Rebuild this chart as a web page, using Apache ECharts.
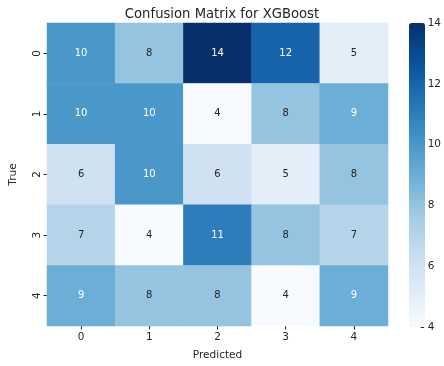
<!DOCTYPE html>
<html>
<head>
<meta charset="utf-8">
<script src="https://cdn.jsdelivr.net/npm/echarts@6/dist/echarts.min.js"></script>
<style>html,body{margin:0;padding:0;background:#fff;}#c{width:444px;height:366px;}</style>
</head>
<body>
<div id="c"></div>
<script>
var predictedLabels = ['0', '1', '2', '3', '4'];
var trueLabels = ['0', '1', '2', '3', '4'];
var row0 = [10, 8, 14, 12, 5];
var row1 = [10, 10, 4, 8, 9];
var row2 = [6, 10, 6, 5, 8];
var row3 = [7, 4, 11, 8, 7];
var row4 = [9, 8, 8, 4, 9];
var colorbarTicks = [4, 6, 8, 10, 12, 14];
var titleText = 'Confusion Matrix for XGBoost';

var rows = [row0, row1, row2, row3, row4];
var blues = ['#f7fbff','#deebf7','#c6dbef','#9ecae1','#6baed6','#4292c6','#2171b5','#08519c','#08306b'];
var vmin = 4, vmax = 14;
var font = 'DejaVu Sans';
var data = [];
rows.forEach(function (r, i) {
  r.forEach(function (v, j) {
    data.push({ value: [j, i, v], label: { color: v >= 9 ? '#ffffff' : '#262626' } });
  });
});

var chart = echarts.init(document.getElementById('c'), null, { renderer: 'canvas' });
chart.setOption({
  backgroundColor: '#ffffff',
  animation: false,
  title: {
    text: titleText, left: 217, top: 3, textAlign: 'center',
    textStyle: { fontFamily: font, fontSize: 13.2, fontWeight: 'normal', color: '#262626' }
  },
  grid: [
    { left: 46, top: 23, width: 342, height: 304 },
    { left: 409, top: 23, width: 16, height: 304 }
  ],
  xAxis: [
    {
      type: 'category', gridIndex: 0, data: predictedLabels,
      name: 'Predicted', nameLocation: 'middle', nameGap: 24,
      nameTextStyle: { fontFamily: font, fontSize: 10.5, color: '#262626' },
      axisLine: { show: false },
      axisTick: { show: true, alignWithLabel: true, length: 3.5, lineStyle: { color: '#262626' } },
      axisLabel: { fontFamily: font, fontSize: 10.5, color: '#262626', margin: 6 },
      splitLine: { show: false }
    },
    { type: 'category', gridIndex: 1, show: false, data: ['c'] }
  ],
  yAxis: [
    {
      type: 'category', gridIndex: 0, data: trueLabels, inverse: true,
      name: 'True', nameLocation: 'middle', nameGap: 28,
      nameTextStyle: { fontFamily: font, fontSize: 10.5, color: '#262626' },
      axisLine: { show: false },
      axisTick: { show: true, alignWithLabel: true, length: 3.5, lineStyle: { color: '#262626' } },
      axisLabel: { fontFamily: font, fontSize: 10.5, color: '#262626', rotate: 90, margin: 4 },
      splitLine: { show: false }
    },
    {
      type: 'value', gridIndex: 1, position: 'right', min: vmin, max: vmax, interval: 2,
      axisLine: { show: false, onZero: false },
      axisTick: { show: true, length: 3.5, lineStyle: { color: '#262626' } },
      axisLabel: { fontFamily: font, fontSize: 10.5, color: '#262626', margin: 7,
        formatter: function (v) { return colorbarTicks.indexOf(v) >= 0 ? String(v) : ''; } },
      splitLine: { show: false }
    }
  ],
  visualMap: {
    type: 'continuous', min: vmin, max: vmax, seriesIndex: 0,
    inRange: { color: blues },
    show: true, orient: 'vertical', left: 409, top: 23, padding: 0,
    itemWidth: 16, itemHeight: 304, text: null, calculable: false, hoverLink: false,
    showLabel: false
  },
  series: [
    {
      type: 'heatmap', xAxisIndex: 0, yAxisIndex: 0, data: data,
      label: { show: true, fontFamily: font, fontSize: 10, formatter: function (p) { return p.value[2]; } },
      itemStyle: { borderWidth: 0 },
      emphasis: { disabled: true }
    }
  ]
});
</script>
</body>
</html>
